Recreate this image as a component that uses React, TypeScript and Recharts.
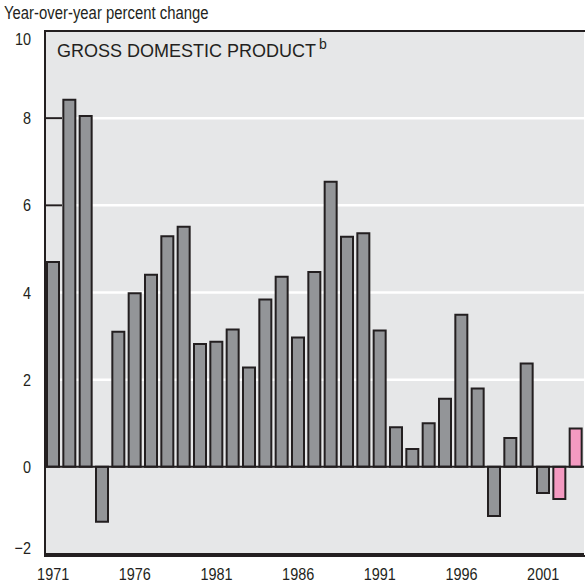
import React from 'react';
import { BarChart, Bar, Cell, XAxis, YAxis, CartesianGrid, ReferenceLine } from 'recharts';

const years = [
  1971, 1972, 1973, 1974, 1975, 1976, 1977, 1978, 1979, 1980,
  1981, 1982, 1983, 1984, 1985, 1986, 1987, 1988, 1989, 1990,
  1991, 1992, 1993, 1994, 1995, 1996, 1997, 1998, 1999, 2000,
  2001, 2002, 2003,
];

const gdpChange = [
  4.7, 8.42, 8.05, -1.26, 3.1, 3.98, 4.41, 5.29, 5.51, 2.82,
  2.87, 3.15, 2.28, 3.84, 4.36, 2.97, 4.47, 6.54, 5.28, 5.36,
  3.13, 0.91, 0.41, 1.0, 1.56, 3.49, 1.8, -1.13, 0.66, 2.37,
  -0.6, -0.74, 0.88,
];

// years drawn in pink
const forecastYears = [2002, 2003];

const yTicks = [-2, 0, 2, 4, 6, 8, 10];
const gridLevels = [2, 4, 6, 8];

const chartData = years.map((y, i) => ({ year: String(y), value: gdpChange[i] }));

const INK = '#231f20';
const font = '"Liberation Sans", Arial, Helvetica, sans-serif';
const SQUEEZE = 0.85;

const fmtY = (v: number) => (v < 0 ? '\u2212' + Math.abs(v) : String(v));

const yMax = Math.max(...yTicks);
const yMin = Math.min(...yTicks);

// condensed-looking tick text (no narrow font installed)
const NarrowTick = (props: any) => {
  const { x, y, payload, textAnchor, dy, isY } = props;
  const v = payload.value;
  // inward tick only where the first bar doesn't sit on it
  const showMark = isY && (v > Math.max(0, gdpChange[0]) || v < Math.min(0, gdpChange[0]));
  let shift = 0;
  if (isY && v === yMax) shift = 8;
  if (isY && v === yMin) shift = -6;
  return (
    <g>
      {showMark && <line x1={x + 14} x2={x + 31} y1={y} y2={y} stroke={INK} strokeWidth={2} />}
      <text
        transform={`translate(${x},${y + shift}) scale(${SQUEEZE},1)`}
        textAnchor={textAnchor}
        dy={isY ? '0.355em' : dy ?? '0.71em'}
        fill={INK}
        fontSize={17}
        fontFamily={font}
      >
        {isY ? fmtY(v) : v}
      </text>
    </g>
  );
};

export default function App() {
  return (
    <div style={{ position: 'absolute', left: 0, top: 0, width: 585, height: 586, background: '#fff' }}>
      <BarChart
        width={585}
        height={586}
        data={chartData}
        margin={{ top: 31, right: 1, bottom: 0, left: 0 }}
        barCategoryGap={2}
      >
        <CartesianGrid
          vertical={false}
          fill="#e6e7e8"
          fillOpacity={1}
          stroke="#ffffff"
          strokeWidth={2.5}
          horizontalValues={gridLevels}
        />
        <XAxis
          dataKey="year"
          height={32}
          interval={4}
          tickLine={false}
          tickSize={0}
          tickMargin={14}
          axisLine={{ stroke: INK, strokeWidth: 2 }}
          tick={<NarrowTick />}
        />
        <YAxis
          width={45}
          domain={[-2, 10]}
          ticks={yTicks}
          tickLine={false}
          tickSize={0}
          tickMargin={14}
          axisLine={{ stroke: INK, strokeWidth: 2 }}
          tick={<NarrowTick isY />}
        />
        <Bar dataKey="value" stroke={INK} strokeWidth={2} isAnimationActive={false}>
          {chartData.map((d) => (
            <Cell key={d.year} fill={forecastYears.includes(Number(d.year)) ? '#f49ac1' : '#939598'} />
          ))}
        </Bar>
        <ReferenceLine y={0} stroke={INK} strokeWidth={2} />
      </BarChart>
      {/* plot frame */}
      <div style={{ position: 'absolute', left: 44, top: 30, width: 539, height: 523, border: `2px solid ${INK}`, pointerEvents: 'none' }} />
      <div style={{ position: 'absolute', left: 4, top: 3, fontFamily: font, fontSize: 17.5, color: INK, whiteSpace: 'nowrap', transform: `scaleX(${SQUEEZE})`, transformOrigin: 'left top' }}>
        Year-over-year percent change
      </div>
      <div style={{ position: 'absolute', left: 57, top: 41, fontFamily: font, fontSize: 18, color: INK, whiteSpace: 'nowrap' }}>
        GROSS DOMESTIC PRODUCT
        <sup style={{ fontSize: 14, verticalAlign: 'top', position: 'relative', top: -5, marginLeft: 3 }}>b</sup>
      </div>
    </div>
  );
}
